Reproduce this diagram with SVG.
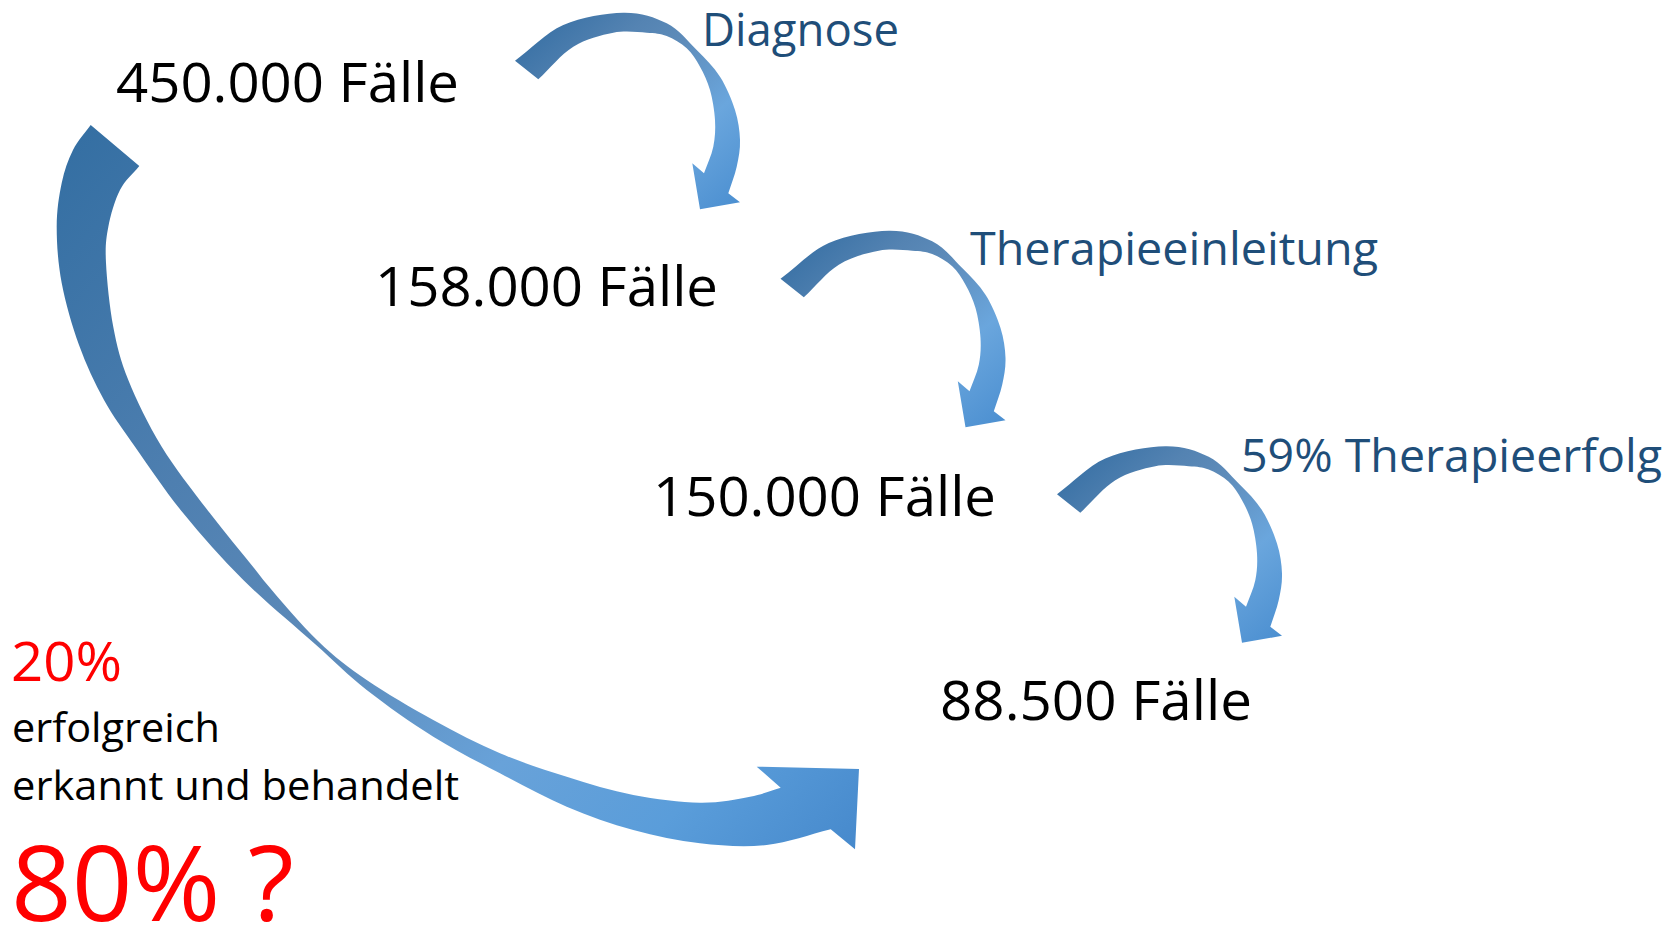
<svg xmlns="http://www.w3.org/2000/svg" xmlns:xlink="http://www.w3.org/1999/xlink" width="1667" height="927" viewBox="0 0 1667 927">
<style>
  .num { font-family: "Open Sans", "Liberation Sans", sans-serif; font-size: 54px; fill: #000000; }
  .lbl { font-family: "Open Sans", "Liberation Sans", sans-serif; font-size: 46px; fill: #1F4E79; }
  .red { font-family: "Open Sans", "Liberation Sans", sans-serif; fill: #FF0000; }
  .small { font-family: "Open Sans", "Liberation Sans", sans-serif; font-size: 41px; fill: #000000; }
</style>
<defs>
  <linearGradient id="gSmall" x1="0" y1="0" x2="1" y2="1">
    <stop offset="0" stop-color="#2F6AA0"/>
    <stop offset="0.3" stop-color="#5483B2"/>
    <stop offset="0.45" stop-color="#5E8CBA"/>
    <stop offset="0.7" stop-color="#6AA6DD"/>
    <stop offset="1" stop-color="#4A8ED0"/>
  </linearGradient>
  <linearGradient id="gBig" gradientUnits="userSpaceOnUse" x1="60" y1="125" x2="860" y2="850">
    <stop offset="0" stop-color="#336EA2"/>
    <stop offset="0.3" stop-color="#4E7FB0"/>
    <stop offset="0.5" stop-color="#5C8AB9"/>
    <stop offset="0.7" stop-color="#68A2D9"/>
    <stop offset="0.85" stop-color="#5A9DDA"/>
    <stop offset="1" stop-color="#4689CC"/>
  </linearGradient>
  <path id="curvedArrow" fill="url(#gSmall)" d="M515,60.7 C531.4,48.8 545.3,33 563.3,25 C581.4,17 606.1,13 623.3,12.7 C640.5,12.4 654.5,17.1 666.7,23.3 C678.9,29.5 687.8,41.1 696.7,50 C705.6,58.9 713.6,66.7 720,76.7 C726.4,86.7 731.7,99.4 735,110 C738.3,120.6 739.7,130.6 740,140 C740.3,149.4 738.7,157.8 736.7,166.7 C734.7,175.6 731.1,184.4 728.3,193.3 L740,202.3 L700,209.3 L692.3,163.3 L704,173.3 C707.1,164.4 711.47,155.58 713.3,146.7 C715.13,137.82 715.55,129.45 715,120 C714.45,110.55 712.5,98.88 710,90 C707.5,81.12 703.88,73.65 700,66.7 C696.12,59.75 692.25,53.42 686.7,48.3 C681.15,43.18 673.37,38.6 666.7,36 C660.03,33.4 655.6,33.25 646.7,32.7 C637.8,32.15 625.53,30.37 613.3,32.7 C601.07,35.03 585.8,38.93 573.3,46.7 C560.8,54.47 550,68.43 538.3,79.3 Z"/>
</defs>
<g id="connectors">
  <use id="arrow-diagnose" xlink:href="#curvedArrow" href="#curvedArrow"/>
  <use id="arrow-therapieeinleitung" xlink:href="#curvedArrow" href="#curvedArrow" transform="translate(265.5,218)"/>
  <use id="arrow-therapieerfolg" xlink:href="#curvedArrow" href="#curvedArrow" transform="translate(542,433.5)"/>
  <path id="arrow-big" fill="url(#gBig)" d="M90.7,125 C84.8,133.3 77.83,140.33 73,150 C68.17,159.67 64.42,170.17 61.7,183 C58.98,195.83 56.7,210.33 56.7,227 C56.7,243.67 57.98,263.33 61.7,283 C65.42,302.67 71.95,325.5 79,345 C86.05,364.5 94.67,383.05 104,400 C113.33,416.95 121.78,427.82 135,446.7 C148.22,465.58 165.25,491.08 183.3,513.3 C201.35,535.52 221.35,558.22 243.3,580 C265.25,601.78 294.43,625.67 315,644 C335.57,662.33 346.98,674.55 366.7,690 C386.42,705.45 411.08,722.82 433.3,736.7 C455.53,750.58 477.77,761.63 500,773.3 C522.23,784.97 544.48,797.25 566.7,806.7 C588.92,816.15 611.08,823.9 633.3,830 C655.53,836.1 677.77,840.8 700,843.3 C722.23,845.8 744.92,847.33 766.7,845 C788.48,842.67 809.37,834.53 830.7,829.3 L855,849.3 L859,769 L756.7,766.7 L780.7,787.7 C770.47,790.7 763.45,794.2 750,796.7 C736.55,799.2 719.45,802.98 700,802.7 C680.55,802.42 655.52,799.33 633.3,795 C611.08,790.67 588.92,783.65 566.7,776.7 C544.48,769.75 522.23,762.75 500,753.3 C477.77,743.85 455.52,732.22 433.3,720 C411.08,707.78 385.92,693.17 366.7,680 C347.48,666.83 335.23,657.67 318,641 C300.77,624.33 281.3,601.28 263.3,580 C246.37,557.78 226.93,535.52 210,513.3 C193.07,491.08 175.32,468.92 161.7,446.7 C148.08,424.48 136.37,399.95 128.3,380 C120.23,360.05 117.02,346.5 113.3,327 C109.58,307.5 106.83,279.67 106,263 C105.17,246.33 105.97,239.17 108.3,227 C110.63,214.83 114.83,200.17 120,190 C125.17,179.83 132.87,174 139.3,166 Z"/>
</g>
<g id="node-450000">
  <text class="num" x="116" y="102" textLength="343" lengthAdjust="spacingAndGlyphs">450.000 Fälle</text>
</g>
<g id="node-158000">
  <text class="num" x="375" y="306" textLength="343" lengthAdjust="spacingAndGlyphs">158.000 Fälle</text>
</g>
<g id="node-150000">
  <text class="num" x="653" y="516" textLength="343" lengthAdjust="spacingAndGlyphs">150.000 Fälle</text>
</g>
<g id="node-88500">
  <text class="num" x="940" y="719.5" textLength="312" lengthAdjust="spacingAndGlyphs">88.500 Fälle</text>
</g>
<g id="label-diagnose">
  <text class="lbl" x="702" y="46" textLength="197" lengthAdjust="spacingAndGlyphs">Diagnose</text>
</g>
<g id="label-therapieeinleitung">
  <text class="lbl" x="970" y="265" textLength="408" lengthAdjust="spacingAndGlyphs">Therapieeinleitung</text>
</g>
<g id="label-therapieerfolg">
  <text class="lbl" x="1241" y="471.5" textLength="421" lengthAdjust="spacingAndGlyphs">59% Therapieerfolg</text>
</g>
<g id="summary">
  <text class="red" x="11" y="681" font-size="54" textLength="111" lengthAdjust="spacingAndGlyphs">20%</text>
  <text class="small" x="12" y="742" textLength="208" lengthAdjust="spacingAndGlyphs">erfolgreich</text>
  <text class="small" x="12" y="800" textLength="447" lengthAdjust="spacingAndGlyphs">erkannt und behandelt</text>
  <text class="red" x="11" y="921" font-size="105" textLength="283" lengthAdjust="spacingAndGlyphs">80% ?</text>
</g>
</svg>
